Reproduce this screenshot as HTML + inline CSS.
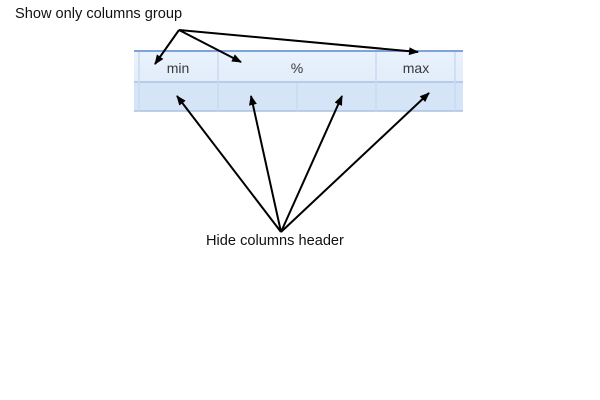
<!DOCTYPE html>
<html><head><style>
body{margin:0;width:600px;height:400px;background:#fff;overflow:hidden;position:relative;font-family:"Liberation Sans",sans-serif}
.t{position:absolute;font-size:14.6px;color:#111;white-space:nowrap}
</style></head><body>
<svg width="600" height="400" style="position:absolute;left:0;top:0">
<defs><linearGradient id="g1" x1="0" y1="0" x2="0" y2="1"><stop offset="0" stop-color="#eaf2fc"/><stop offset="1" stop-color="#dae8f8"/></linearGradient>
<marker id="a" markerWidth="10" markerHeight="8" refX="9" refY="4" orient="auto" markerUnits="userSpaceOnUse"><path d="M0,0L10,4L0,8z" fill="#000"/></marker></defs>
<rect x="134" y="50" width="329" height="61" fill="url(#g1)"/>
<rect x="134" y="83" width="329" height="28" fill="#d5e4f7"/>
<line x1="134" y1="51" x2="463" y2="51" stroke="#7fa3d6" stroke-width="2"/>
<line x1="134" y1="82" x2="463" y2="82" stroke="#a9c2e2" stroke-width="1.5"/>
<line x1="134" y1="111" x2="463" y2="111" stroke="#a9c2e2" stroke-width="1.5"/>
<g stroke="#c9daef" stroke-width="1.5">
<line x1="139" y1="52" x2="139" y2="111"/><line x1="218" y1="52" x2="218" y2="111"/>
<line x1="297" y1="83" x2="297" y2="111"/><line x1="376" y1="52" x2="376" y2="111"/>
<line x1="455" y1="52" x2="455" y2="111"/></g>
<g font-family="Liberation Sans,sans-serif" font-size="14" fill="#3a3a3a" text-anchor="middle">
<text x="178" y="73">min</text><text x="297" y="73">%</text><text x="416" y="73">max</text></g>
<g stroke="#000" stroke-width="2" marker-end="url(#a)">
<line x1="179" y1="30" x2="155" y2="64"/>
<line x1="179" y1="30" x2="241" y2="62"/>
<line x1="179" y1="30" x2="418" y2="52"/>
<line x1="281" y1="232" x2="177" y2="96"/>
<line x1="281" y1="232" x2="251" y2="96"/>
<line x1="281" y1="232" x2="342" y2="96"/>
<line x1="281" y1="232" x2="429" y2="93"/>
</g>
</svg>
<div class="t" style="left:15px;top:6px">Show only columns group</div>
<div class="t" style="left:206px;top:233px">Hide columns header</div>
</body></html>
